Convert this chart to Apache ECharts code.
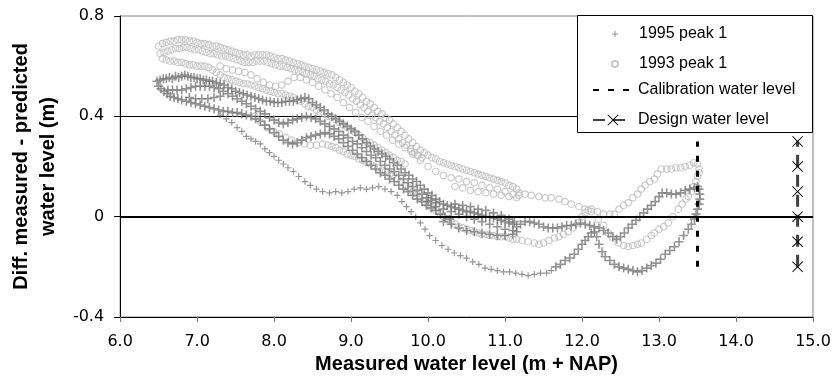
<!DOCTYPE html>
<html>
<head>
<meta charset="utf-8">
<script src="https://cdn.jsdelivr.net/npm/echarts@6/dist/echarts.min.js"></script>
<style>
  html, body { margin: 0; padding: 0; background: #fff; }
  #chart { width: 834px; height: 390px; }
</style>
</head>
<body>
<div id="chart"></div>
<script>
// tick values / labels
const xTicks = [6, 7, 8, 9, 10, 11, 12, 13, 14, 15];
const yTicks = [-0.4, 0, 0.4, 0.8];
const yTickLabels = ['-0.4', '0', '0.4', '0.8'];

// 1995 peak 1 ("+" markers), traced along the visible bands
const p95Upper = [
  [6.48,0.54],[6.52,0.545],[6.56,0.55],[6.6,0.55],[6.64,0.555],[6.68,0.55],[6.72,0.56],[6.76,0.555],
  [6.8,0.56],[6.84,0.565],[6.88,0.56],[6.92,0.555],[6.96,0.555],[7.0,0.55],[7.04,0.55],[7.08,0.545],
  [7.12,0.545],[7.16,0.54],[7.2,0.54],[7.25,0.535],[7.3,0.53],[7.35,0.525],[7.4,0.515],[7.45,0.51],
  [7.5,0.5],[7.55,0.495],[7.6,0.49],[7.65,0.485],[7.7,0.48],[7.75,0.475],[7.8,0.47],[7.85,0.465],
  [7.9,0.46],[7.95,0.46],[8.0,0.455],[8.05,0.455],[8.1,0.455],[8.15,0.46],[8.2,0.46],[8.25,0.46],
  [8.3,0.465],[8.35,0.47],[8.4,0.475],[8.45,0.47],[8.5,0.455],[8.55,0.445],[8.6,0.435],[8.65,0.425],
  [8.7,0.41],[8.75,0.4],[8.8,0.39],[8.85,0.38],[8.9,0.37],[8.95,0.36],[9.0,0.35],[9.05,0.34],
  [9.1,0.325],[9.15,0.31],[9.2,0.295],[9.25,0.28],[9.3,0.27],[9.35,0.26],[9.4,0.25],[9.45,0.24],
  [9.5,0.23],[9.55,0.215],[9.6,0.205],[9.65,0.19],[9.7,0.175],[9.75,0.165],[9.8,0.15],[9.85,0.14],
  [9.9,0.125],[9.95,0.11],[10.0,0.095],[10.05,0.085],[10.1,0.07],[10.15,0.06],[10.2,0.05],[10.25,0.045],
  [10.3,0.04],[10.35,0.035],[10.4,0.03],[10.45,0.025],[10.5,0.02],[10.55,0.02],[10.6,0.015],[10.65,0.01],
  [10.7,0.005],[10.75,0.0],[10.8,0.0],[10.85,-0.005],[10.9,-0.01],[10.95,-0.015],[11.0,-0.02],[11.05,-0.025],
  [11.1,-0.03],[11.15,-0.04]
];
const p95Middle = [
  [6.62,0.505],[6.68,0.505],[6.74,0.505],[6.8,0.505],[6.86,0.51],[6.92,0.515],[6.98,0.52],[7.04,0.52],
  [7.1,0.52],[7.16,0.52],[7.22,0.515],[7.28,0.51],[7.34,0.5],[7.4,0.49],[7.46,0.48],[7.52,0.47],
  [7.58,0.46],[7.64,0.45],[7.7,0.44],[7.76,0.43],[7.82,0.42],[7.88,0.41],[7.94,0.395],[8.0,0.385],
  [8.06,0.375],[8.12,0.37],[8.18,0.375],[8.24,0.385],[8.3,0.39],[8.36,0.395],[8.42,0.4],[8.48,0.395],
  [8.54,0.39],[8.6,0.38],[8.66,0.37],[8.72,0.36],[8.78,0.35],[8.84,0.34],[8.9,0.325],[8.96,0.315],
  [9.02,0.3],[9.08,0.29],[9.14,0.275],[9.2,0.26],[9.26,0.245],[9.32,0.235],[9.38,0.22],[9.44,0.205],
  [9.5,0.19],[9.56,0.18],[9.62,0.165],[9.68,0.15],[9.74,0.135],[9.8,0.12],[9.86,0.105],[9.92,0.09],
  [9.98,0.075],[10.04,0.065],[10.1,0.055],
  [6.9,0.475],[6.98,0.47],[7.06,0.47],[7.14,0.47],[7.22,0.475],[7.3,0.48]
];
const p95Lowerband = [
  [6.5,0.52],[6.53,0.51],[6.57,0.5],[6.61,0.49],[6.65,0.48],[6.7,0.475],[6.75,0.47],[6.8,0.465],
  [6.86,0.46],[6.92,0.455],[6.98,0.45],[7.04,0.445],[7.1,0.44],[7.16,0.435],[7.22,0.43],[7.28,0.425],
  [7.34,0.42],[7.4,0.42],[7.46,0.415],[7.52,0.415],[7.58,0.41],[7.64,0.405],[7.7,0.4],[7.76,0.39],
  [7.82,0.38],[7.88,0.365],[7.94,0.35],[8.0,0.335],[8.06,0.32],[8.12,0.305],[8.18,0.295],[8.24,0.29],
  [8.3,0.295],[8.36,0.305],[8.42,0.315],[8.48,0.32],[8.54,0.325],[8.6,0.33],[8.66,0.335],[8.72,0.33],
  [8.78,0.32],[8.84,0.31],[8.9,0.295],[8.96,0.28],[9.02,0.265],[9.08,0.25],[9.14,0.235],[9.2,0.22],
  [9.26,0.205],[9.32,0.19],[9.38,0.175],[9.44,0.165],[9.5,0.15],[9.56,0.14],[9.62,0.125],[9.68,0.11],
  [9.74,0.1],[9.8,0.085],[9.86,0.07],[9.92,0.06],[9.98,0.045],[10.04,0.035],[10.1,0.025],[10.16,0.01],
  [10.22,0.0],[10.28,-0.01]
];
const p95Sparse = [
  [7.3,0.405],[7.38,0.39],[7.45,0.375],[7.52,0.355],[7.58,0.34],[7.64,0.32],[7.7,0.31],[7.76,0.3],
  [7.82,0.29],[7.88,0.27],[7.94,0.255],[8.0,0.24],[8.06,0.225],[8.12,0.21],[8.18,0.195],[8.25,0.18],
  [8.32,0.16],[8.4,0.14],[8.47,0.125],[8.55,0.11],[8.63,0.1],[8.72,0.095],[8.8,0.1],[8.88,0.095],
  [8.96,0.1],[9.04,0.11],[9.12,0.115],[9.2,0.11],[9.28,0.115],[9.36,0.12],[9.44,0.11],[9.52,0.1],
  [9.6,0.085],[9.66,0.06],[9.72,0.04],[9.78,0.02],[9.84,0.0],[9.9,-0.025],[9.96,-0.05],[10.02,-0.075],
  [10.1,-0.095],[10.18,-0.115],[10.26,-0.13],[10.34,-0.145],[10.42,-0.155],[10.5,-0.165],[10.58,-0.18],
  [10.66,-0.19],[10.74,-0.205],[10.82,-0.21],[10.9,-0.215],[10.98,-0.22],[11.06,-0.22],[11.14,-0.225],
  [11.22,-0.23],[11.3,-0.235],[11.38,-0.23],[11.46,-0.225],[11.54,-0.225],[11.6,-0.215]
];
const p95Tail = [
  [11.66,-0.2],[11.72,-0.19],[11.78,-0.175],[11.84,-0.165],[11.9,-0.15],[11.95,-0.13],[12.0,-0.11],
  [12.04,-0.095],[12.08,-0.08],[12.12,-0.065],[12.16,-0.06],[12.19,-0.08],[12.22,-0.11],[12.26,-0.14],
  [12.3,-0.16],[12.36,-0.175],[12.42,-0.19],[12.48,-0.2],[12.54,-0.205],[12.6,-0.21],[12.66,-0.215],
  [12.72,-0.22],[12.78,-0.215],[12.84,-0.205],[12.9,-0.195],[12.96,-0.185],[13.02,-0.17],[13.08,-0.15],
  [13.14,-0.135],[13.2,-0.12],[13.26,-0.1],[13.32,-0.075],[13.38,-0.05],[13.42,-0.03],[13.46,-0.01],
  [13.48,0.01],[13.5,0.03],[13.52,0.05],[13.53,0.07],[13.53,0.09],[13.52,0.11]
];
const p95Return = [
  [11.2,-0.03],[11.26,-0.02],[11.32,-0.02],[11.38,-0.025],[11.44,-0.03],[11.5,-0.04],[11.56,-0.045],
  [11.62,-0.045],[11.68,-0.045],[11.74,-0.04],[11.8,-0.035],[11.86,-0.035],[11.92,-0.03],[11.98,-0.025],
  [12.04,-0.03],[12.1,-0.035],[12.16,-0.04],[12.22,-0.045],[12.28,-0.055],[12.34,-0.065],[12.4,-0.08],
  [12.45,-0.09],[12.5,-0.08],[12.55,-0.065],[12.6,-0.045],[12.65,-0.03],[12.7,-0.015],[12.75,0.0],
  [12.8,0.015],[12.85,0.03],[12.9,0.045],[12.95,0.06],[13.0,0.08],[13.04,0.095],[13.1,0.095],
  [13.16,0.09],[13.22,0.09],[13.28,0.095],[13.34,0.105],[13.4,0.11],[13.46,0.115],[13.5,0.12]
];
const p95Cluster = [
  [10.0,0.06],[10.1,0.04],[10.2,0.03],[10.3,0.02],[10.4,0.01],[10.5,0.0],[10.6,-0.01],[10.7,-0.02],
  [10.8,-0.03],[10.9,-0.04],[11.0,-0.05],[11.1,-0.055],[11.15,-0.06],
  [10.35,0.05],[10.45,0.045],[10.55,0.04],[10.65,0.03],[10.75,0.025],[10.85,0.015],[10.95,0.005],
  [11.05,-0.01],[11.12,-0.02],
  [10.2,-0.02],[10.3,-0.03],[10.4,-0.045],[10.5,-0.055],[10.6,-0.06],[10.7,-0.065],[10.8,-0.07],
  [10.9,-0.075],[11.0,-0.075],[11.1,-0.07]
];

// 1993 peak 1 (open circles)
const p93TopA = [
  [6.5,0.68],[6.55,0.69],[6.6,0.695],[6.65,0.7],[6.7,0.7],[6.75,0.705],[6.8,0.705],[6.85,0.705],
  [6.9,0.7],[6.95,0.7],[7.0,0.695],[7.05,0.69],[7.1,0.69],[7.15,0.685],[7.2,0.68],[7.25,0.68],
  [7.3,0.675],[7.35,0.67],[7.4,0.665],[7.45,0.66],[7.5,0.655],[7.55,0.65],[7.6,0.645],[7.65,0.645],
  [7.7,0.64],[7.75,0.645],[7.8,0.645],[7.85,0.645],[7.9,0.645],[7.95,0.64],[8.0,0.635],[8.05,0.63],
  [8.1,0.63],[8.15,0.625],[8.2,0.62],[8.25,0.615],[8.3,0.61],[8.35,0.605],[8.4,0.6],[8.45,0.595],
  [8.5,0.59],[8.55,0.585],[8.6,0.58],[8.65,0.575],[8.7,0.57],[8.75,0.565],[8.8,0.555],[8.85,0.545],
  [8.9,0.535],[8.95,0.525],[9.0,0.515],[9.05,0.5],[9.1,0.49],[9.15,0.475],[9.2,0.46],[9.25,0.45],
  [9.3,0.435],[9.35,0.42],[9.4,0.41],[9.45,0.395],[9.5,0.385],[9.55,0.37],[9.6,0.355],[9.65,0.34],
  [9.7,0.325],[9.75,0.31],[9.8,0.295],[9.85,0.28],[9.9,0.265],[9.95,0.255],[10.0,0.245],[10.05,0.235],
  [10.1,0.23],[10.15,0.22],[10.2,0.215],[10.25,0.21],[10.3,0.205],[10.35,0.2],[10.4,0.195],[10.45,0.19],
  [10.5,0.185],[10.55,0.18],[10.6,0.175],[10.65,0.17],[10.7,0.165],[10.75,0.16],[10.8,0.155],[10.85,0.15],
  [10.9,0.145],[10.95,0.14],[11.0,0.135],[11.05,0.125],[11.1,0.12],[11.15,0.11]
];
const p93TopB = [
  [6.52,0.65],[6.57,0.655],[6.62,0.66],[6.67,0.665],[6.72,0.67],[6.77,0.67],[6.82,0.675],[6.87,0.675],
  [6.92,0.67],[6.97,0.665],[7.02,0.665],[7.07,0.66],[7.12,0.655],[7.17,0.65],[7.22,0.65],[7.27,0.645],
  [7.32,0.64],[7.37,0.64],[7.42,0.635],[7.47,0.63],[7.52,0.625],[7.57,0.62],[7.62,0.615],[7.67,0.615],
  [7.72,0.615],[7.77,0.62],[7.82,0.62],[7.87,0.62],[7.92,0.615],[7.97,0.61],[8.02,0.605],[8.07,0.6],
  [8.12,0.6],[8.17,0.595],[8.22,0.59],[8.27,0.585],[8.32,0.58],[8.37,0.575],[8.42,0.57],[8.47,0.565],
  [8.52,0.56],[8.57,0.55],[8.62,0.545],[8.67,0.54],[8.72,0.53],[8.77,0.525],[8.82,0.515],[8.87,0.505],
  [8.92,0.495],[8.97,0.485],[9.02,0.47],[9.07,0.46],[9.12,0.445],[9.17,0.435],[9.22,0.42],[9.27,0.405],
  [9.32,0.395],[9.37,0.38],[9.42,0.37],[9.47,0.355],[9.52,0.34],[9.57,0.325],[9.62,0.31],[9.67,0.295],
  [9.72,0.285],[9.77,0.27],[9.82,0.255],[9.87,0.245],[9.92,0.235]
];
const p93Second = [
  [6.55,0.63],[6.6,0.625],[6.65,0.62],[6.7,0.62],[6.75,0.615],[6.8,0.615],[6.85,0.61],[6.9,0.605],
  [6.95,0.605],[7.0,0.6],[7.05,0.6],[7.1,0.6],[7.15,0.595],[7.2,0.585],[7.25,0.575],[7.3,0.565],
  [7.35,0.555],[7.4,0.55],[7.45,0.545],[7.5,0.54],[7.55,0.535],[7.6,0.53],[7.65,0.53],[7.7,0.525],
  [7.75,0.52],[7.8,0.515],[7.85,0.51],[7.9,0.505],[7.95,0.5],[8.0,0.495],[8.05,0.49],[8.1,0.49],
  [8.15,0.485],[8.2,0.48],[8.25,0.475],[8.3,0.465],[8.35,0.46],[8.4,0.45],[8.45,0.44],[8.5,0.435],
  [8.55,0.425],[8.6,0.415],[8.65,0.41],[8.7,0.4],[8.75,0.395],[8.8,0.385],[8.85,0.375],[8.9,0.365],
  [8.95,0.355],[9.0,0.345],[9.05,0.335],[9.1,0.325],[9.15,0.315],[9.2,0.3],[9.25,0.295],[9.3,0.285],
  [9.35,0.275],[9.4,0.265],[9.45,0.255],[9.5,0.245],[9.55,0.235],[9.6,0.225],[9.65,0.22],[9.7,0.21]
];
const p93Loop = [
  [7.3,0.6],[7.38,0.59],[7.46,0.585],[7.54,0.58],[7.62,0.575],[7.7,0.565],[7.78,0.55],[7.86,0.535],
  [7.94,0.525],[8.02,0.52],[8.1,0.525],[8.18,0.54],[8.26,0.555],[8.34,0.555],[8.42,0.545],[8.5,0.535],
  [8.58,0.52],[8.66,0.505],[8.74,0.49],[8.82,0.475],[8.9,0.455],[8.98,0.435],[9.06,0.415],[9.14,0.395],
  [9.22,0.38],[9.3,0.36],[9.38,0.34],[9.46,0.325],[9.54,0.305],[9.62,0.29],[9.7,0.275],[9.78,0.26],
  [9.86,0.245]
];
const p93Lower = [
  [7.75,0.4],[7.83,0.375],[7.91,0.355],[7.99,0.34],[8.07,0.33],[8.15,0.315],[8.23,0.305],[8.31,0.295],
  [8.39,0.29],[8.47,0.285],[8.55,0.285],[8.63,0.29],[8.7,0.285],[8.75,0.28],[8.8,0.275],[8.85,0.265],
  [8.9,0.26],[8.95,0.25],[9.0,0.245],[9.05,0.24],[9.1,0.23],[9.15,0.225],[9.2,0.215],[9.25,0.21],
  [9.3,0.2],[9.35,0.195],[9.4,0.185],[9.45,0.18],[9.5,0.17],[9.55,0.165],[9.6,0.15],[9.65,0.14],
  [9.7,0.125],[9.75,0.115],[9.8,0.1],[9.85,0.09],[9.9,0.075],[9.95,0.06],[10.0,0.045],[10.05,0.035],
  [10.1,0.025],[10.15,0.015],[10.2,0.0],[10.25,-0.01],[10.3,-0.02],[10.35,-0.03],[10.4,-0.04],
  [10.45,-0.045],[10.5,-0.05],[10.55,-0.055],[10.6,-0.06],[10.65,-0.065],[10.7,-0.07],[10.75,-0.07],
  [10.8,-0.075],[10.85,-0.075],[10.9,-0.08],[10.95,-0.08],[11.0,-0.08],[11.05,-0.085],[11.1,-0.09],
  [11.15,-0.09],[11.22,-0.095],[11.3,-0.1],[11.38,-0.105],[11.44,-0.11],[11.5,-0.105],[11.57,-0.095],
  [11.64,-0.085],[11.7,-0.08],[11.76,-0.07],[11.82,-0.06],[11.88,-0.045],[11.94,-0.025],[12.0,0.0],
  [12.04,0.015],[12.08,0.025],[12.12,0.03]
];
const p93Rise = [
  [12.2,0.02],[12.28,0.01],[12.36,0.01],[12.42,0.01],[12.48,0.03],[12.54,0.045],[12.6,0.055],
  [12.66,0.075],[12.72,0.09],[12.77,0.11],[12.82,0.125],[12.88,0.14],[12.94,0.15],[12.98,0.17],
  [13.03,0.19],[13.1,0.19],[13.16,0.19],[13.22,0.195],[13.28,0.195],[13.34,0.2],[13.4,0.205],
  [13.45,0.215],[13.5,0.21],[13.52,0.19]
];
const p93Fall = [
  [11.18,0.095],[11.26,0.09],[11.34,0.085],[11.44,0.08],[11.52,0.075],[11.6,0.075],[11.7,0.07],
  [11.78,0.06],[11.86,0.05],[11.96,0.04],[12.04,0.03],[12.12,0.02],[12.21,-0.01],[12.28,-0.035],
  [12.34,-0.065],[12.4,-0.085],[12.47,-0.105],[12.54,-0.115],[12.6,-0.12],[12.66,-0.115],[12.72,-0.11],
  [12.77,-0.105],[12.84,-0.09],[12.9,-0.075],[12.94,-0.065],[13.0,-0.05],[13.06,-0.04],[13.12,-0.025],
  [13.18,0.0],[13.25,0.03],[13.3,0.05],[13.35,0.07],[13.38,0.08],[13.42,0.1],[13.45,0.12],[13.48,0.14],
  [13.5,0.16],[13.52,0.175]
];
const p93Cluster = [
  [9.8,0.25],[9.9,0.225],[10.0,0.2],[10.1,0.18],[10.2,0.165],[10.3,0.155],[10.4,0.15],[10.5,0.14],
  [10.6,0.135],[10.7,0.125],[10.8,0.115],[10.9,0.11],[11.0,0.1],[11.1,0.09],[11.18,0.085],
  [10.35,0.12],[10.45,0.115],[10.55,0.105],[10.65,0.1],[10.75,0.095],[10.85,0.09],[10.95,0.085],
  [11.05,0.08],[11.15,0.075]
];

// reference levels
const calibrationLevel = [[13.5, -0.2], [13.5, 0.3]];
const designLevel = [[14.8, -0.2], [14.8, -0.1], [14.8, 0], [14.8, 0.1], [14.8, 0.2], [14.8, 0.3]];

const FONT = '"Liberation Sans", Arial, sans-serif';
const PLUS = 'path://M4.1,0H5.9V4.1H10V5.9H5.9V10H4.1V5.9H0V4.1H4.1Z';
const CROSS = 'path://M0.6,0L5,4.4L9.4,0L10,0.6L5.6,5L10,9.4L9.4,10L5,5.6L0.6,10L0,9.4L4.4,5L0,0.6Z';

// the sparse falling branch is drawn with smaller marks, as in the original
const peak1995 = [].concat(p95Upper, p95Middle, p95Lowerband, p95Tail, p95Return, p95Cluster)
  .concat(p95Sparse.map(p => ({ value: p, symbolSize: 6.5 })));
const peak1993 = [].concat(p93TopA, p93TopB, p93Second, p93Loop, p93Lower, p93Rise, p93Fall, p93Cluster);

const chart = echarts.init(document.getElementById('chart'));

chart.setOption({
  animation: false,
  textStyle: { fontFamily: FONT },
  grid: {
    left: 116, right: 21, top: 16, bottom: 73,
    show: true, borderColor: '#808080', borderWidth: 1
  },
  graphic: [{
    type: 'rect', z: 3,
    shape: { x: 577.5, y: 15.5, width: 235, height: 117 },
    style: { fill: '#fff', stroke: '#000', lineWidth: 1 }
  }],
  legend: [
    {
      orient: 'vertical', left: 611, top: 26, padding: 0,
      itemWidth: 6, itemHeight: 6, itemGap: 14,
      selectedMode: false, z: 5,
      data: ['1995 peak 1', '1993 peak 1'],
      textStyle: { fontFamily: FONT, fontSize: 16, color: '#000', lineHeight: 14, padding: [0, 0, 0, 16] }
    },
    {
      orient: 'vertical', left: 592, top: 82, padding: 0,
      itemWidth: 40, itemHeight: 14, itemGap: 14,
      selectedMode: false, z: 5,
      data: ['Calibration water level', 'Design water level'],
      textStyle: { fontFamily: FONT, fontSize: 16, color: '#000', lineHeight: 14 }
    }
  ],
  xAxis: {
    type: 'value',
    min: xTicks[0], max: xTicks[xTicks.length - 1], interval: xTicks[1] - xTicks[0],
    name: 'Measured water level (m + NAP)',
    nameLocation: 'middle', nameGap: 36,
    nameTextStyle: { fontFamily: FONT, fontSize: 20, fontWeight: 'bold', color: '#000' },
    axisLine: { onZero: false, lineStyle: { color: '#000', width: 1 } },
    axisTick: { show: true, inside: false, length: 5, lineStyle: { color: '#777' } },
    axisLabel: {
      margin: 17, color: '#000', fontSize: 16, fontFamily: '"DejaVu Sans", sans-serif',
      formatter: v => v.toFixed(1)
    },
    splitLine: { show: false }
  },
  yAxis: {
    type: 'value',
    min: yTicks[0], max: yTicks[yTicks.length - 1], interval: yTicks[1] - yTicks[0],
    name: 'Diff. measured - predicted\nwater level (m)',
    nameLocation: 'middle', nameGap: 47, nameRotate: 90,
    nameTextStyle: { fontFamily: FONT, fontSize: 20, fontWeight: 'bold', color: '#000', lineHeight: 27 },
    axisLine: { onZero: false, lineStyle: { color: '#000', width: 1 } },
    axisTick: { show: true, inside: false, length: 6, lineStyle: { color: '#000' } },
    axisLabel: {
      margin: 16, color: '#000', fontSize: 16, fontFamily: '"DejaVu Sans", sans-serif',
      formatter: v => {
        let best = 0;
        yTicks.forEach((t, i) => { if (Math.abs(t - v) < Math.abs(yTicks[best] - v)) best = i; });
        return yTickLabels[best];
      }
    },
    splitLine: {
      show: true, showMinLine: false, showMaxLine: false,
      lineStyle: { color: '#000', width: 1 }
    }
  },
  series: [
    {
      name: '1993 peak 1',
      type: 'scatter',
      data: peak1993,
      symbol: 'circle',
      symbolSize: 6.5,
      itemStyle: { color: 'transparent', borderColor: '#bdbdbd', borderWidth: 1.2 },
      z: 2
    },
    {
      name: '1995 peak 1',
      type: 'scatter',
      data: peak1995,
      symbol: PLUS,
      symbolSize: 9,
      itemStyle: { color: '#7a7a7a' },
      z: 2,
      markLine: {
        silent: true,
        symbol: ['none', 'none'],
        label: { show: false },
        lineStyle: { color: '#000', width: 2, type: 'solid' },
        data: [{ yAxis: 0 }]
      }
    },
    {
      name: 'Calibration water level',
      type: 'line',
      data: calibrationLevel,
      symbol: 'circle',
      showSymbol: false,
      itemStyle: { color: 'transparent' },
      lineStyle: { color: '#000', width: 3, type: [6, 9] },
      z: 3
    },
    {
      name: 'Design water level',
      type: 'line',
      data: designLevel,
      symbol: CROSS,
      symbolSize: 11,
      showSymbol: true,
      itemStyle: { color: '#000' },
      lineStyle: { color: '#404040', width: 3, type: [12, 8] },
      z: 3
    }
  ]
});
</script>
</body>
</html>
